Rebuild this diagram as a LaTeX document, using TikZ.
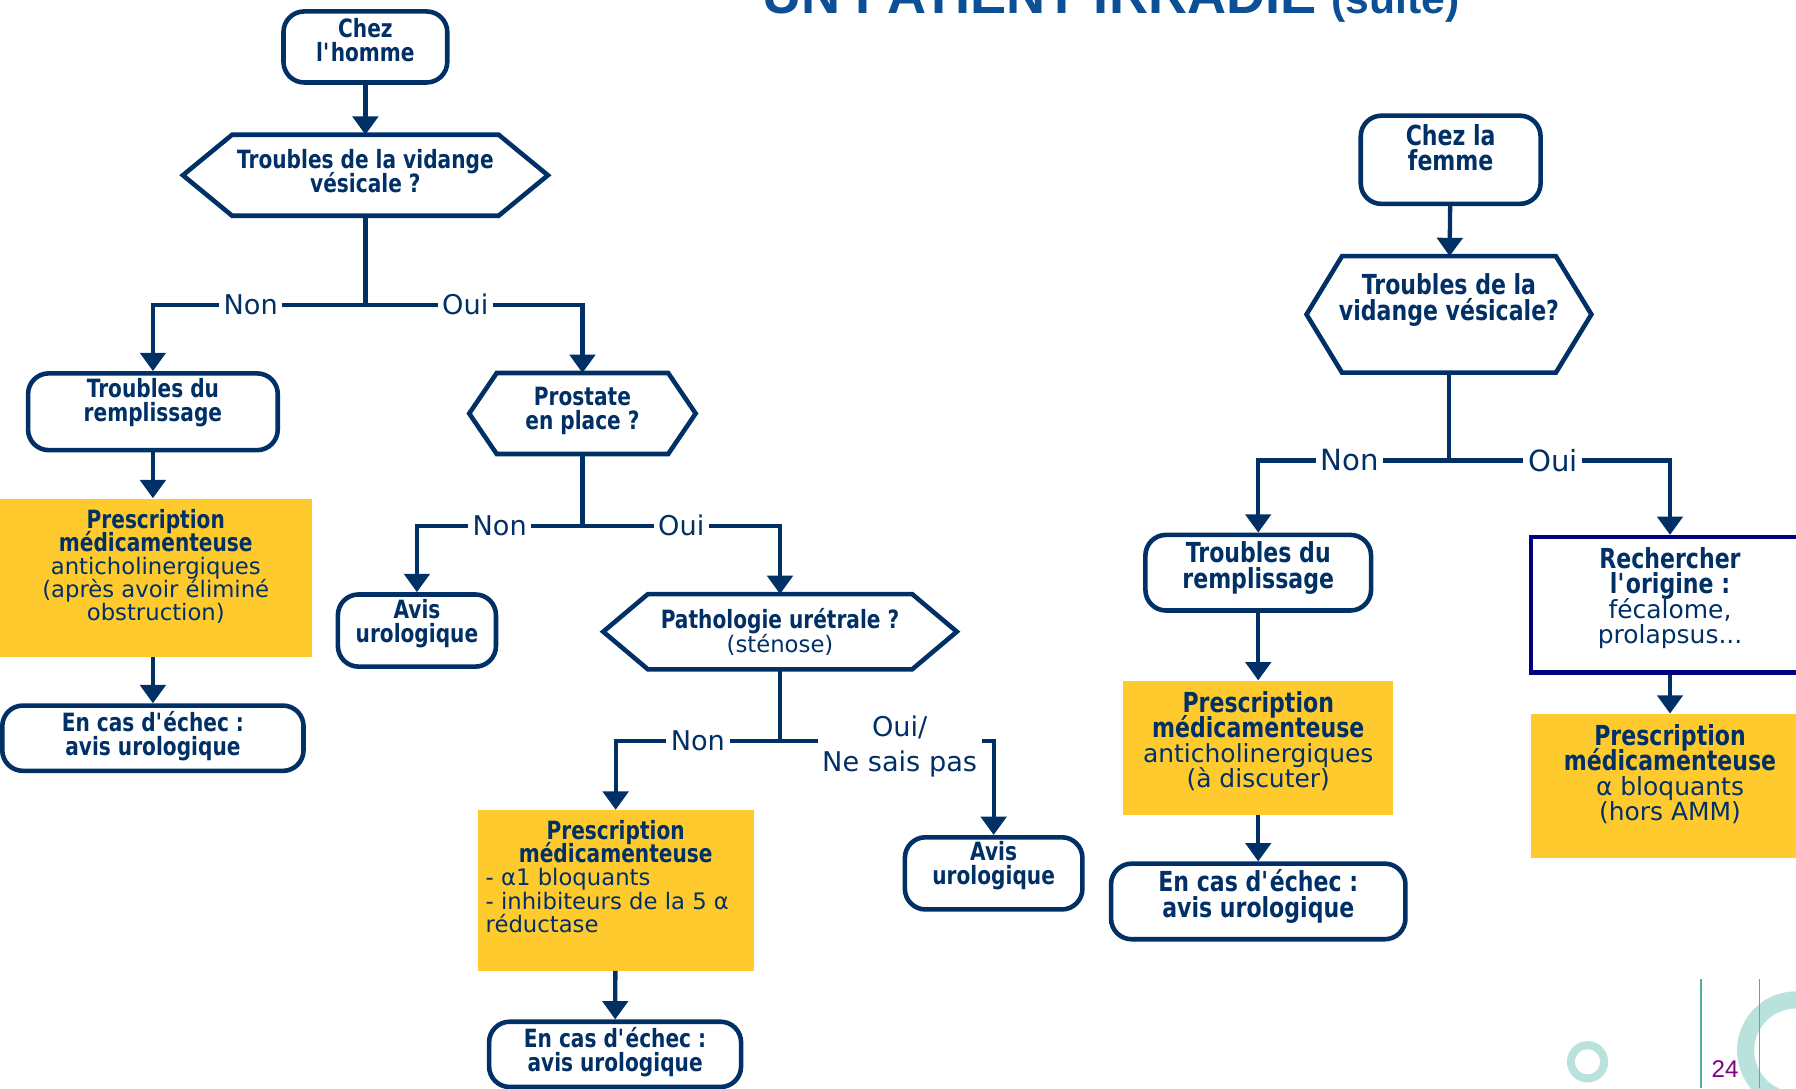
\documentclass[tikz,border=0pt]{standalone}
\usepackage{fontspec}
\setmainfont{DejaVu Sans}
\newfontfamily\condfont{DejaVu Sans}[FakeStretch=0.8]
\newfontfamily\titlefont{Liberation Sans}
\usetikzlibrary{arrows.meta,calc}

\definecolor{navy}{RGB}{0,48,102}
\definecolor{gold}{RGB}{255,202,46}
\definecolor{deepblue}{RGB}{0,0,128}
\definecolor{titleblue}{RGB}{11,79,150}
\definecolor{ringteal}{RGB}{184,226,219}
\definecolor{lineteal}{RGB}{80,175,160}
\definecolor{pagepurple}{RGB}{128,0,128}

\newcommand{\fsz}{\condfont\fontsize{12.5}{12}\selectfont\lineskiplimit=-\maxdimen}
\newcommand{\rsz}{\normalfont\fontsize{11.3}{11.5}\selectfont\lineskiplimit=-\maxdimen}
\newcommand{\lsz}{\fontsize{13.5}{17.5}\selectfont}
\newcommand{\bfline}[1]{{\fsz\bfseries #1}}
\newcommand{\boxtext}[3]{\parbox[c][#1][t]{#2}{\rsz\centering #3}}
\newcommand{\lift}[3]{\raisebox{#1}[\height][\depth]{\parbox{#2}{\fsz\bfseries\centering #3}}}
% hexagone autour d'un noeud rectangulaire
\newcommand{\hexpath}[2]{%
  \draw[hexline] (#1.west) -- ($(#1.north west)+(#2,0)$) -- ($(#1.north east)+(-#2,0)$)
    -- (#1.east) -- ($(#1.south east)+(-#2,0)$) -- ($(#1.south west)+(#2,0)$) -- cycle;}

\begin{document}
\begin{tikzpicture}[x=0.2mm,y=-0.2mm,
  term/.style={draw=navy,line width=.8mm,rounded corners=3.6mm,fill=white,
               align=center,inner sep=0pt,text=navy,font=\fsz\bfseries},
  quest/.style={align=center,inner sep=0pt,text=navy,font=\fsz\bfseries},
  hexline/.style={draw=navy,line width=.8mm,line join=miter},
  presc/.style={fill=gold,anchor=north,inner xsep=1.4mm,inner ysep=1.8mm,
                text=navy,font=\rsz},
  cadre/.style={draw=deepblue,line width=.8mm,anchor=north,inner xsep=1.4mm,
                inner ysep=1.8mm,text=navy,font=\rsz},
  link/.style={draw=navy,line width=.75mm},
  arrow/.style={link,-{Triangle[width=4.4mm,length=3.2mm]}},
  lbl/.style={fill=white,inner xsep=.8mm,inner ysep=.3mm,text=navy,
              align=center,font=\lsz}]
\path[use as bounding box] (0,0) rectangle (1568,950);
\clip (0,0) rectangle (1568,950);

% titre, coupe en haut
\node[anchor=base west,inner sep=0pt,text=titleblue,
      font=\titlefont\bfseries\fontsize{26.9}{30}\selectfont] (titre) at (665,12)
  {UN PATIENT IRRADIÉ {\fontsize{21.2}{24}\selectfont(suite)}};

% chez l'homme
\node[term,minimum width=28.6mm,minimum height=12.4mm] (homme) at (319,41)
  {\lift{1.2mm}{27mm}{Chez\\l\textquotesingle homme}};
\node[quest,minimum width=63.6mm,minimum height=14mm] (vidangeH) at (319,153)
  {\lift{.7mm}{60mm}{Troubles de la vidange\\vésicale ?}};
\hexpath{vidangeH}{43}
\coordinate (jH) at (319,266);
\node[term,minimum width=43.6mm,minimum height=13.4mm] (tdrH) at (133.5,359.5)
  {\lift{1.6mm}{42mm}{Troubles du\\remplissage}};
\node[presc] (prescH) at (136,435) {\boxtext{24mm}{51.6mm}{\bfline{Prescription}\\
  \bfline{médicamenteuse}\\anticholinergiques\\(après avoir éliminé\\obstruction)}};
\node[term,minimum width=52.6mm,minimum height=11.4mm] (echecH) at (133.5,644.5)
  {\lift{.4mm}{51mm}{En cas d\textquotesingle échec :\\avis urologique}};

\node[quest,minimum width=39.4mm,minimum height=14mm] (prostate) at (508.5,361)
  {\lift{.5mm}{36mm}{Prostate\\en place ?}};
\hexpath{prostate}{24}
\coordinate (jP) at (508.5,459);
\node[term,minimum width=27.6mm,minimum height=12.6mm] (avisP) at (364,550.5)
  {\lift{1.2mm}{26mm}{Avis\\urologique}};
\node[quest,minimum width=61.6mm,minimum height=13mm] (uretre) at (681,551.5)
  {Pathologie urétrale ?\\{\rsz (sténose)}};
\hexpath{uretre}{39}
\coordinate (jU) at (681,647);
\node[presc] (prescU) at (537.5,707) {\boxtext{24.4mm}{45.4mm}{\bfline{Prescription}\\
  \bfline{médicamenteuse}\par\raggedright - α1 bloquants\\- inhibiteurs de la 5 α\\réductase}};
\node[term,minimum width=44mm,minimum height=11.4mm] (echecU) at (537,920.5)
  {\lift{.4mm}{42mm}{En cas d\textquotesingle échec :\\avis urologique}};
\node[term,minimum width=31mm,minimum height=12.6mm] (avisU) at (867.5,762.5)
  {\lift{1.4mm}{29mm}{Avis\\urologique}};

\draw[arrow] (homme) -- (vidangeH);
\draw[link] (vidangeH) -- (jH);
\draw[arrow] (jH) -| node[lbl,pos=.27] {Non} (tdrH);
\draw[arrow] (jH) -| node[lbl,pos=.23] {Oui} (prostate);
\draw[arrow] (tdrH) -- (tdrH |- prescH.north);
\draw[arrow] (prescH.south -| echecH) -- (echecH);
\draw[link] (prostate) -- (jP);
\draw[arrow] (jP) -| node[lbl,pos=.25] {Non} (avisP);
\draw[arrow] (jP) -| node[lbl,pos=.25] {Oui} (uretre);
\draw[link] (uretre) -- (jU);
\draw[arrow] (jU) -| node[lbl,pos=.25] {Non} (prescU);
\draw[arrow] (jU) -| node[lbl,pos=.28,yshift=-1mm] {Oui/\\Ne sais pas} (avisU);
\draw[arrow] (prescU) -- (echecU);

% chez la femme
\begin{scope}
\renewcommand{\fsz}{\condfont\fontsize{13.7}{12.6}\selectfont\lineskiplimit=-\maxdimen}
\renewcommand{\rsz}{\normalfont\fontsize{12.4}{12.5}\selectfont\lineskiplimit=-\maxdimen}
\renewcommand{\lsz}{\fontsize{14.5}{17.5}\selectfont}
\node[term,minimum width=31.4mm,minimum height=15.4mm] (femme) at (1266.5,139.5)
  {\lift{2.1mm}{30mm}{Chez la\\femme}};
\node[quest,minimum width=49.6mm,minimum height=20.2mm] (vidangeF) at (1265,274.5)
  {\lift{2.5mm}{46mm}{Troubles de la\\vidange vésicale?}};
\hexpath{vidangeF}{31}
\coordinate (jF) at (1265,402);
\node[term,minimum width=39.4mm,minimum height=13.2mm] (tdrF) at (1098.5,500)
  {\lift{.8mm}{38mm}{Troubles du\\remplissage}};
\node[presc] (prescF) at (1098.5,594) {\boxtext{19.8mm}{44.4mm}{\bfline{Prescription}\\
  \bfline{médicamenteuse}\\anticholinergiques\\(à discuter)}};
\node[term,minimum width=51.4mm,minimum height=13.2mm] (echecF) at (1098.5,787)
  {\lift{.9mm}{50mm}{En cas d\textquotesingle échec :\\avis urologique}};
\node[cadre] (origine) at (1458,467) {\boxtext{20mm}{45.8mm}{\bfline{Rechercher}\\
  \bfline{l\textquotesingle origine :}\\fécalome,\\prolapsus...}};
\node[presc] (prescO) at (1458,623) {\boxtext{21.6mm}{45.6mm}{\bfline{Prescription}\\
  \bfline{médicamenteuse}\\α bloquants\\(hors AMM)}};

\draw[arrow] (femme) -- (vidangeF);
\draw[link] (vidangeF) -- (jF);
\draw[arrow] (jF) -| node[lbl,pos=.26] {Non} (tdrF);
\draw[arrow] (jF) -| node[lbl,pos=.235] {Oui} (origine);
\draw[arrow] (tdrF) -- (prescF);
\draw[arrow] (prescF) -- (echecF);
\draw[arrow] (origine) -- (prescO);
\end{scope}

% pied de page
\draw[ringteal,line width=1.4mm] (1386,927) circle[radius=2.9mm];
\draw[ringteal,line width=3mm] (1568,917) circle[radius=8.8mm];
\draw[lineteal,line width=.6pt] (1485,855) -- (1485,950) (1536,855) -- (1536,950);
\node[text=pagepurple,font=\titlefont\fontsize{12}{14}\selectfont] (page) at (1506,933) {24};
\end{tikzpicture}
\end{document}
